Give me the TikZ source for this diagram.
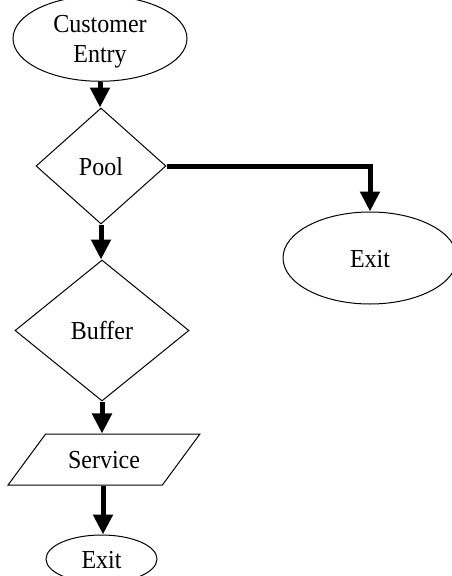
\documentclass[tikz,border=0pt]{standalone}
\usepackage{fontspec}
\setmainfont{Liberation Serif}
\usetikzlibrary{shapes.geometric,arrows.meta}
% slightly tall lettering used in every box, set a little low in its box
\newcommand{\boxtext}[1]{\raisebox{-3.3pt}[\height][\depth]{\scalebox{1}[1.08]{\begin{tabular}{@{}c@{}}#1\end{tabular}}}}
\tikzset{
  shapeline/.style={draw=black, line width=1pt, inner sep=0pt,
    font=\fontsize{24}{28}\selectfont},
  oval/.style={shapeline, ellipse},
  decision/.style={shapeline, diamond},
  iobox/.style={shapeline, trapezium, trapezium left angle=52.6,
    trapezium right angle=127.4, trapezium stretches=true},
  flow/.style={line width=5pt, -{Triangle[width=19pt,length=20pt]}}
}
\begin{document}
\begin{tikzpicture}[x=1pt,y=-1pt]
  \useasboundingbox (0,0) rectangle (451,576);
  % flowchart nodes
  \node[oval, minimum width=174pt, minimum height=67pt] (entry) at (100,38.5) {\boxtext{Customer\\Entry}};
  \node[decision, minimum width=130pt, minimum height=116pt] (pool) at (101,166) {\boxtext{Pool}};
  \node[oval, minimum width=174pt, minimum height=92pt] (exitA) at (370,258) {\boxtext{Exit}};
  \node[decision, minimum width=174pt, minimum height=141pt] (buffer) at (102,330.5) {\boxtext{Buffer}};
  \node[iobox, minimum width=192pt, minimum height=51pt] (service) at (104,459.5) {\boxtext{Service}};
  \node[oval, minimum width=111pt, minimum height=48pt] (exitB) at (101.5,559) {\boxtext{Exit}};
  % connectors
  \draw[flow] (entry.south) -- (entry.south |- pool.north);
  \draw[flow] (pool.east) -| (exitA.north);
  \draw[flow] (pool.south) -- (pool.south |- buffer.north);
  \draw[flow] (buffer.south) -- (buffer.south |- service.north);
  \draw[flow] ([xshift=1pt]buffer.south |- service.south) -- ([xshift=1pt]buffer.south |- exitB.north);
\end{tikzpicture}
\end{document}
